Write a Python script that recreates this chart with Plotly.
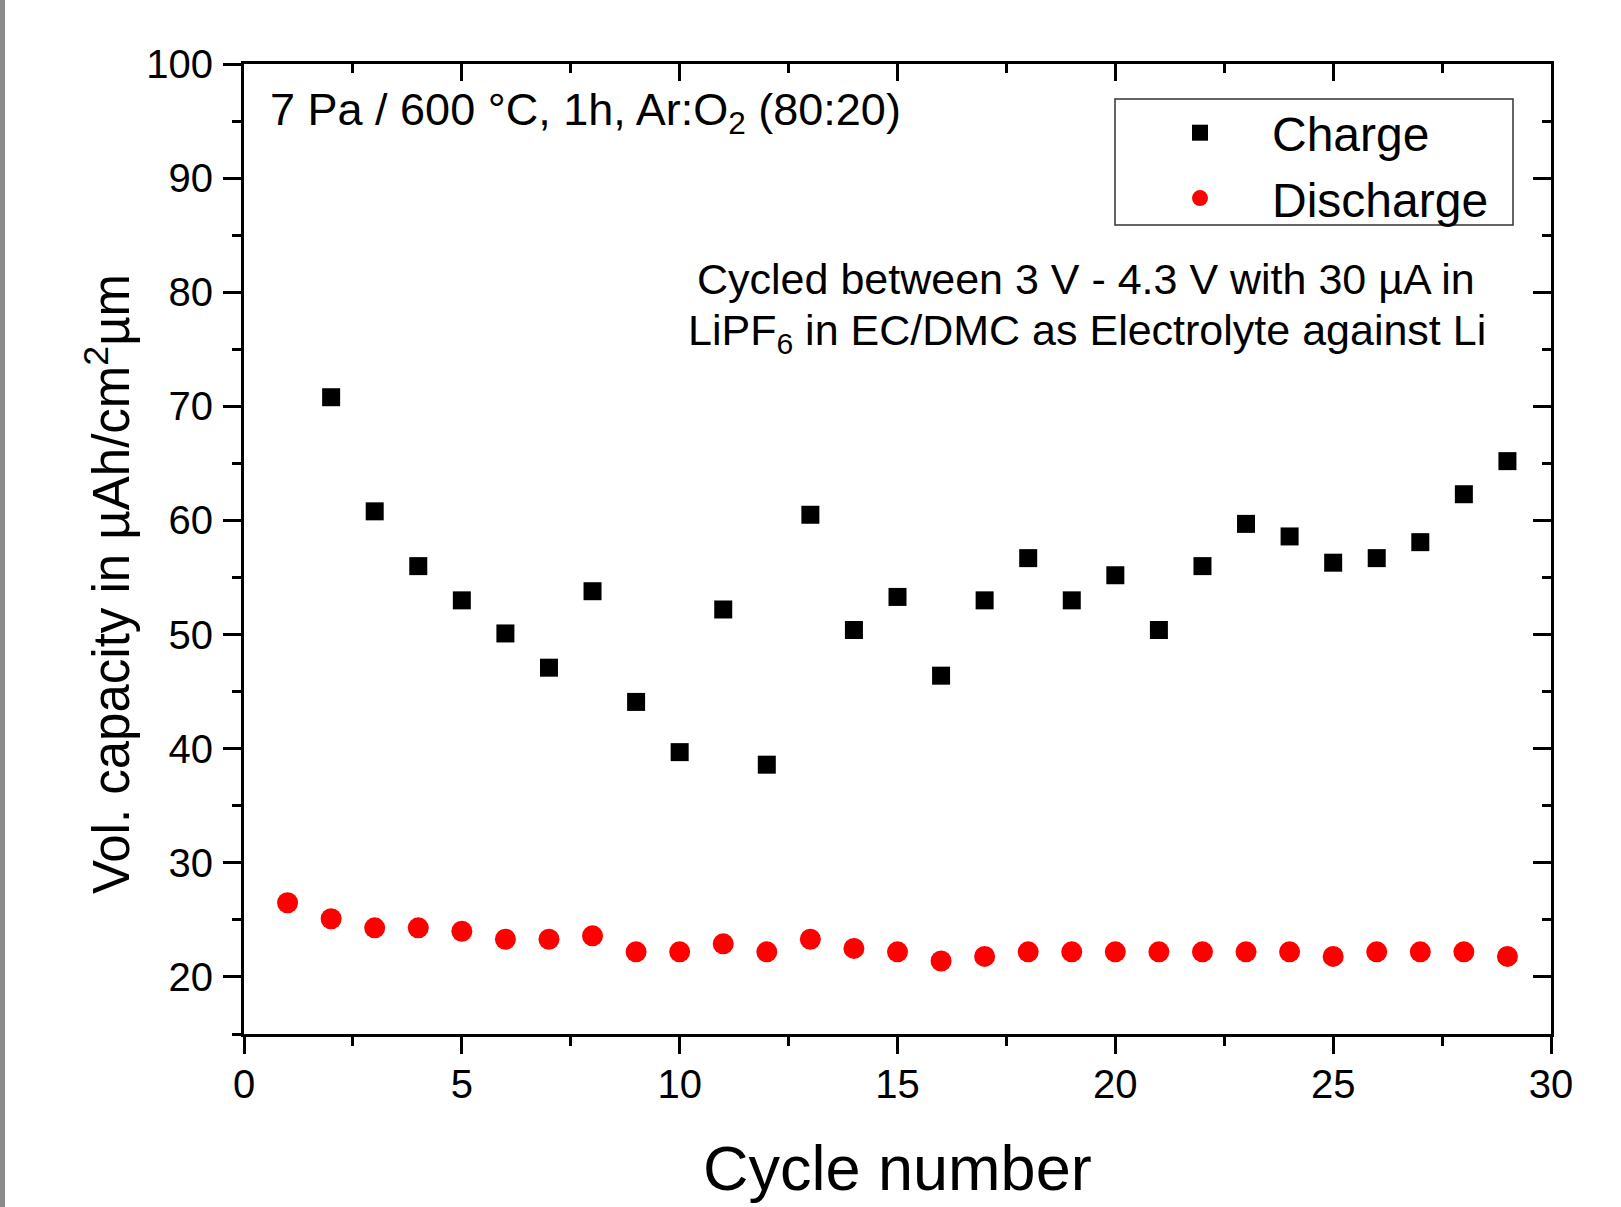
import plotly.graph_objects as go

# ---- data ----
charge_cycle = list(range(2, 30))
charge_cap = [70.8, 60.8, 56.0, 53.0, 50.1, 47.1, 53.8, 44.1, 39.7, 52.2,
              38.6, 60.5, 50.4, 53.3, 46.4, 53.0, 56.7, 53.0, 55.2, 50.4,
              56.0, 59.7, 58.6, 56.3, 56.7, 58.1, 62.3, 65.2]
discharge_cycle = list(range(1, 30))
discharge_cap = [26.5, 25.1, 24.3, 24.3, 24.0, 23.3, 23.3, 23.6, 22.2, 22.2,
                 22.9, 22.2, 23.3, 22.5, 22.2, 21.4, 21.8, 22.2, 22.2, 22.2,
                 22.2, 22.2, 22.2, 22.2, 21.8, 22.2, 22.2, 22.2, 21.8]
x_ticks = [0, 5, 10, 15, 20, 25, 30]
y_ticks = [20, 30, 40, 50, 60, 70, 80, 90, 100]

FONT = "Liberation Sans, Arial, sans-serif"
W, H = 1621, 1207
L, R, T, B = 244, 70, 64, 173
pw, ph = W - L - R, H - T - B


def px(x):
    return (x - L) / pw


def py(y):
    return (H - B - y) / ph


fig = go.Figure()
fig.add_trace(go.Scatter(x=charge_cycle, y=charge_cap, mode="markers", name="Charge",
                         marker=dict(symbol="square", size=18, color="black")))
fig.add_trace(go.Scatter(x=discharge_cycle, y=discharge_cap, mode="markers", name="Discharge",
                         marker=dict(symbol="circle", size=21, color="#ff0000")))
# empty trace to anchor mirrored axes
fig.add_trace(go.Scatter(x=[], y=[], xaxis="x2", yaxis="y2", showlegend=False))

axis_common = dict(showline=True, linecolor="black", linewidth=3, showgrid=False,
                   zeroline=False, tickcolor="black", tickwidth=3)

fig.update_layout(
    width=W, height=H,
    margin=dict(l=L, r=R, t=T, b=B),
    plot_bgcolor="white", paper_bgcolor="white",
    font=dict(family=FONT, color="black"),
    xaxis=dict(range=[0, 30], tickvals=x_ticks, ticks="outside", ticklen=17,
               tickfont=dict(size=40), ticklabelstandoff=-4,
               minor=dict(dtick=2.5, tick0=0, ticks="outside", ticklen=9,
                          tickwidth=3, tickcolor="black"),
               **axis_common),
    yaxis=dict(range=[15, 100], tickvals=y_ticks, ticks="outside", ticklen=18,
               tickfont=dict(size=40), ticklabelstandoff=2,
               minor=dict(dtick=5, tick0=0, ticks="outside", ticklen=9,
                          tickwidth=3, tickcolor="black"),
               **axis_common),
    xaxis2=dict(range=[0, 30], overlaying="x", side="top", anchor="y",
                tickvals=x_ticks, ticks="inside", ticklen=17, showticklabels=False,
                minor=dict(dtick=2.5, tick0=0, ticks="inside", ticklen=9,
                           tickwidth=3, tickcolor="black"),
                **axis_common),
    yaxis2=dict(range=[15, 100], overlaying="y", side="right", anchor="x",
                tickvals=y_ticks, ticks="inside", ticklen=18, showticklabels=False,
                minor=dict(dtick=5, tick0=0, ticks="inside", ticklen=9,
                           tickwidth=3, tickcolor="black"),
                **axis_common),
    legend=dict(x=px(1128), y=py(95), xanchor="left", yanchor="top",
                bgcolor="rgba(0,0,0,0)", borderwidth=0,
                font=dict(size=48, family=FONT), itemwidth=134,
                tracegroupgap=0),
    showlegend=True,
)

# legend frame
fig.add_shape(type="rect", xref="paper", yref="paper",
              x0=px(1115), x1=px(1513), y0=py(225), y1=py(99),
              fillcolor="white", line=dict(color="#333333", width=1.5), layer="above")

# axis titles and annotations
fig.add_annotation(text="Cycle number", xref="paper", yref="paper",
                   x=0.5, y=py(1168), xanchor="center", yanchor="middle",
                   showarrow=False, font=dict(size=63, family=FONT))
fig.add_annotation(text="Vol. capacity in µAh/cm<sup>2</sup>µm", xref="paper", yref="paper",
                   x=px(108), y=py(584), xanchor="center", yanchor="middle",
                   textangle=-90, showarrow=False, font=dict(size=51, family=FONT))
fig.add_annotation(text="7 Pa / 600 °C, 1h, Ar:O<sub>2</sub> (80:20)", xref="paper", yref="paper",
                   x=px(268), y=py(112), xanchor="left", yanchor="middle",
                   showarrow=False, font=dict(size=45, family=FONT))
fig.add_annotation(text="Cycled between 3 V - 4.3 V with 30 µA in",
                   xref="paper", yref="paper",
                   x=px(1086), y=py(279), xanchor="center", yanchor="middle",
                   showarrow=False, font=dict(size=43, family=FONT))
fig.add_annotation(text="LiPF<sub>6</sub> in EC/DMC as Electrolyte against Li",
                   xref="paper", yref="paper",
                   x=px(1087), y=py(333), xanchor="center", yanchor="middle",
                   showarrow=False, font=dict(size=43, family=FONT))

# gray strip at left page edge
fig.add_shape(type="rect", xref="paper", yref="paper",
              x0=px(0), x1=px(5), y0=py(H), y1=py(0),
              fillcolor="#8a8a8a", line=dict(width=0), layer="below")

fig.write_html("out.html", config={"displayModeBar": False},
               post_script="document.body.style.margin='0';")
